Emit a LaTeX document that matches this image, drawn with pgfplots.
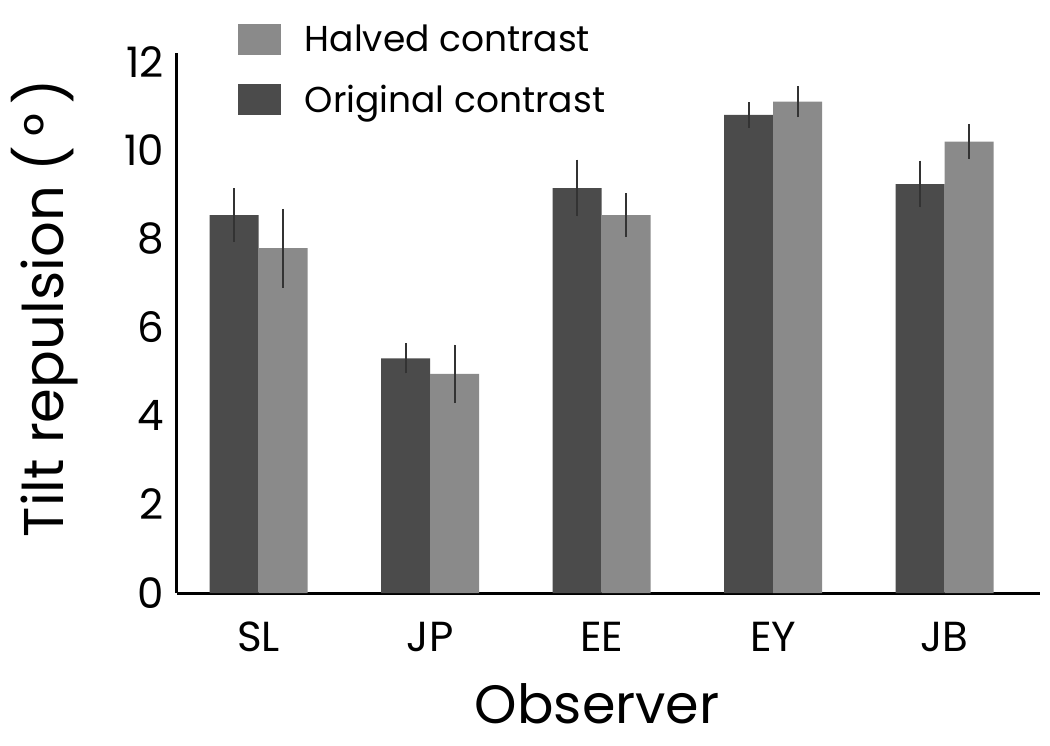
\documentclass[border=0pt]{standalone}
\usepackage{pgfplots}
\pgfplotsset{compat=1.18}
\usepackage{fontspec}
\setmainfont{Poppins}
\definecolor{darkbar}{HTML}{4B4B4B}
\definecolor{lightbar}{HTML}{8A8A8A}
\definecolor{errcol}{HTML}{333333}

\begin{document}
\begin{tikzpicture}
\useasboundingbox (-88.5pt,-76pt) rectangle (436.5pt,296.5pt);
\begin{axis}[
  scale only axis, width=431.5pt, height=270pt,
  xmin=-0.476, xmax=4.556, ymin=0, ymax=12.2,
  axis lines=left, axis line style={-, line width=1.5pt, black},
  xtick={0,...,4}, xticklabels={SL,JP,EE,EY,JB},
  ytick={0,2,...,12},
  major tick length=0pt,
  /pgf/number format/assume math mode=true,
  tick label style={font=\fontsize{21}{24}\selectfont},
  xticklabel style={yshift=-11pt},
  yticklabel style={xshift=-3pt},
  xlabel={Observer}, ylabel={Tilt repulsion (\,°\,)},
  label style={font=\fontsize{27}{30}\selectfont},
  ylabel style={font=\fontsize{28}{30}\selectfont},
  xlabel style={at={(axis description cs:0.487,-0.206)}, anchor=center},
  ylabel style={at={(axis description cs:-0.153,0.528)}, anchor=center},
  legend style={draw=none, fill=none, at={(axis description cs:0.07,1.06)},
    anchor=north west, font=\fontsize{18}{21}\selectfont,
    row sep=11pt, column sep=10pt, inner sep=0pt},
  legend cell align=left, reverse legend,
  legend image code/.code={\fill[#1] (0pt,-7.75pt) rectangle (21.5pt,7.75pt);},
  error bars/error bar style={line width=1pt, errcol},
]
\addplot[ybar, bar width=0.2857, bar shift=0pt, fill=darkbar, draw=none,
  error bars/.cd, y dir=both, y explicit, error mark=none]
  coordinates {
  (-0.1428,8.54) +- (0,0.60)
  (0.8572,5.30) +- (0,0.34)
  (1.8572,9.15) +- (0,0.64)
  (2.8572,10.80) +- (0,0.29)
  (3.8572,9.24) +- (0,0.53)
  };
\addlegendentry{Original contrast}
\addplot[ybar, bar width=0.2857, bar shift=0pt, fill=lightbar, draw=none,
  error bars/.cd, y dir=both, y explicit, error mark=none]
  coordinates {
  (0.1428,7.79) +- (0,0.89)
  (1.1428,4.95) +- (0,0.66)
  (2.1428,8.54) +- (0,0.49)
  (3.1428,11.10) +- (0,0.35)
  (4.1428,10.20) +- (0,0.40)
  };
\addlegendentry{Halved contrast}
\end{axis}
\end{tikzpicture}
\end{document}
